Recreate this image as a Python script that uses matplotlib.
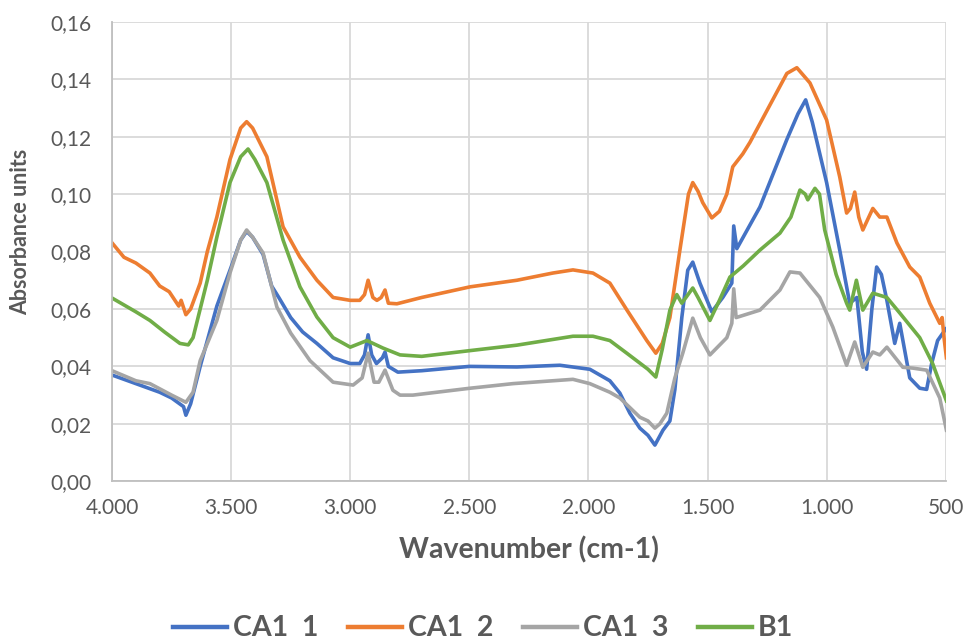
import matplotlib.pyplot as plt
from matplotlib.ticker import FuncFormatter, MultipleLocator

plt.rcParams['font.family'] = ['Lato', 'DejaVu Sans']

# CA1 1 (blue)
wn_1 = [4000, 3900, 3800, 3750, 3700, 3690, 3670, 3630, 3560, 3500, 3460, 3435, 3410, 3366,
        3330, 3300, 3250, 3200, 3140, 3072, 3000, 2960, 2940, 2925, 2910, 2890, 2865, 2854,
        2840, 2800, 2700, 2500, 2300, 2120, 1994, 1910, 1868, 1826, 1784, 1750, 1721, 1687,
        1658, 1637, 1608, 1583, 1562, 1532, 1482, 1436, 1398, 1390, 1377, 1280, 1167, 1120,
        1088, 1060, 1000, 945, 903, 873, 850, 832, 810, 790, 770, 747, 714, 693, 651, 609,
        580, 559, 534, 500]
ab_1 = [0.037, 0.034, 0.031, 0.029, 0.026, 0.023, 0.027, 0.040, 0.061, 0.0746, 0.084, 0.087,
        0.085, 0.079, 0.068, 0.064, 0.057, 0.052, 0.048, 0.043, 0.041, 0.041, 0.044, 0.051,
        0.044, 0.041, 0.043, 0.045, 0.040, 0.038, 0.0385, 0.040, 0.0398, 0.0404, 0.039,
        0.035, 0.0307, 0.0237, 0.0185, 0.016, 0.0126, 0.0178, 0.021, 0.032, 0.057, 0.0735,
        0.0763, 0.069, 0.059, 0.064, 0.069, 0.0889, 0.081, 0.0955, 0.119, 0.128, 0.1328,
        0.125, 0.104, 0.0805, 0.062, 0.064, 0.045, 0.039, 0.060, 0.0746, 0.072, 0.063, 0.048,
        0.055, 0.036, 0.0324, 0.032, 0.041, 0.049, 0.053]

# CA1 2 (orange)
wn_2 = [4000, 3950, 3900, 3841, 3800, 3760, 3744, 3720, 3710, 3690, 3670, 3630, 3600, 3560,
        3505, 3460, 3435, 3410, 3350, 3282, 3211, 3140, 3072, 3000, 2960, 2940, 2925, 2905,
        2888, 2870, 2854, 2840, 2804, 2700, 2497, 2300, 2150, 2065, 1981, 1910, 1839, 1755,
        1717, 1690, 1658, 1616, 1580, 1562, 1540, 1520, 1482, 1450, 1419, 1394, 1352, 1322,
        1251, 1167, 1125, 1070, 1000, 945, 916, 900, 882, 865, 848, 806, 777, 747, 705, 651,
        609, 567, 525, 515, 507, 497]
ab_2 = [0.083, 0.078, 0.076, 0.0725, 0.068, 0.066, 0.064, 0.061, 0.063, 0.058, 0.060, 0.069,
        0.080, 0.092, 0.112, 0.123, 0.1252, 0.123, 0.113, 0.0886, 0.078, 0.070, 0.064, 0.063,
        0.063, 0.065, 0.070, 0.064, 0.063, 0.064, 0.0666, 0.062, 0.0618, 0.064, 0.0677,
        0.070, 0.0725, 0.0736, 0.0725, 0.069, 0.0597, 0.049, 0.0446, 0.048, 0.057, 0.0805,
        0.100, 0.104, 0.101, 0.097, 0.0917, 0.094, 0.100, 0.1095, 0.114, 0.118, 0.129,
        0.142, 0.144, 0.1387, 0.1258, 0.106, 0.0934, 0.095, 0.1007, 0.092, 0.0875, 0.095,
        0.092, 0.092, 0.083, 0.0746, 0.0711, 0.062, 0.055, 0.057, 0.050, 0.043]

# CA1 3 (gray)
wn_3 = [4000, 3900, 3841, 3750, 3690, 3660, 3630, 3560, 3505, 3460, 3435, 3410, 3366, 3308,
        3250, 3169, 3072, 2988, 2950, 2925, 2900, 2880, 2854, 2821, 2791, 2737, 2497, 2317,
        2065, 1994, 1910, 1868, 1784, 1750, 1721, 1700, 1671, 1637, 1604, 1562, 1530, 1490,
        1419, 1398, 1390, 1380, 1280, 1196, 1154, 1112, 1029, 974, 916, 882, 848, 806, 777,
        747, 680, 638, 580, 525, 497]
ab_3 = [0.0385, 0.035, 0.034, 0.030, 0.0275, 0.031, 0.042, 0.056, 0.0725, 0.084, 0.0875,
        0.085, 0.0795, 0.0607, 0.0516, 0.042, 0.0345, 0.0335, 0.036, 0.0446, 0.0345, 0.0345,
        0.0387, 0.0317, 0.030, 0.030, 0.0324, 0.034, 0.0355, 0.034, 0.031, 0.029, 0.0223,
        0.021, 0.0185, 0.020, 0.0237, 0.036, 0.0446, 0.0568, 0.050, 0.044, 0.050, 0.055,
        0.067, 0.057, 0.0596, 0.0666, 0.0729, 0.0725, 0.064, 0.0537, 0.0404, 0.0485, 0.0397,
        0.045, 0.044, 0.0467, 0.0397, 0.0394, 0.0387, 0.029, 0.0178]

# B1 (green)
wn_b = [4000, 3900, 3841, 3780, 3715, 3680, 3660, 3630, 3600, 3560, 3505, 3460, 3429, 3400,
        3350, 3282, 3211, 3140, 3072, 3000, 2930, 2863, 2791, 2700, 2497, 2300, 2065, 1981,
        1910, 1839, 1750, 1717, 1690, 1658, 1629, 1608, 1562, 1540, 1490, 1450, 1406, 1350,
        1280, 1196, 1150, 1112, 1090, 1079, 1049, 1030, 1008, 960, 916, 903, 875, 848, 806,
        747, 693, 609, 555, 497]
ab_b = [0.0638, 0.059, 0.056, 0.052, 0.048, 0.0475, 0.050, 0.060, 0.070, 0.085, 0.104, 0.113,
        0.1157, 0.112, 0.104, 0.084, 0.0677, 0.0572, 0.050, 0.0467, 0.049, 0.0464, 0.044,
        0.0435, 0.0455, 0.0474, 0.0505, 0.0505, 0.049, 0.0446, 0.039, 0.0363, 0.046, 0.0596,
        0.065, 0.062, 0.0673, 0.064, 0.056, 0.063, 0.0711, 0.075, 0.0805, 0.0864, 0.092,
        0.1014, 0.100, 0.098, 0.102, 0.100, 0.0875, 0.072, 0.062, 0.0596, 0.070, 0.0596,
        0.0655, 0.064, 0.0586, 0.050, 0.041, 0.028]

series = [
    ('CA1  1', wn_1, ab_1, '#4472C4'),
    ('CA1  2', wn_2, ab_2, '#ED7D31'),
    ('CA1  3', wn_3, ab_3, '#A5A5A5'),
    ('B1', wn_b, ab_b, '#70AD47'),
]

fig = plt.figure(figsize=(9.66, 6.4), dpi=100)
ax = fig.add_axes([0.116, 0.248, 0.863, 0.718])

for name, x, y, c in series:
    ax.plot(x, y, color=c, lw=2.6, label=name, solid_joinstyle='round')

ax.set_xlim(4000, 500)
ax.set_ylim(0, 0.16)
ax.xaxis.set_major_locator(MultipleLocator(500))
ax.yaxis.set_major_locator(MultipleLocator(0.02))
ax.xaxis.set_major_formatter(FuncFormatter(lambda v, p: '{:,.0f}'.format(v).replace(',', '.')))
ax.yaxis.set_major_formatter(FuncFormatter(lambda v, p: '{:.2f}'.format(v).replace('.', ',')))

ax.grid(color='#D9D9D9', lw=1.3)
ax.set_axisbelow(True)
for s in ['top', 'right']:
    ax.spines[s].set_visible(False)
for s in ['left', 'bottom']:
    ax.spines[s].set_color('#BFBFBF')
    ax.spines[s].set_linewidth(1.3)
ax.tick_params(length=0, labelsize=15, colors='#595959')
ax.tick_params(axis='x', pad=12)
ax.tick_params(axis='y', pad=15)

ax.set_xlabel('Wavenumber (cm-1)', fontsize=20.5, fontweight='bold', color='#595959', labelpad=13)
ax.set_ylabel('Absorbance units', fontsize=15.5, fontweight='bold', color='#595959')
ax.yaxis.set_label_coords(-0.097, 0.542)

leg = fig.legend(loc='center', bbox_to_anchor=(0.5, 0.018), ncol=4, frameon=False,
                 handlelength=1.9, columnspacing=1.05, handletextpad=0.2,
                 prop={'size': 20.5, 'weight': 'bold'})
for t in leg.get_texts():
    t.set_color('#595959')
for h in leg.get_lines():
    h.set_linewidth(3.2)

fig.savefig('out.png', dpi=100)
